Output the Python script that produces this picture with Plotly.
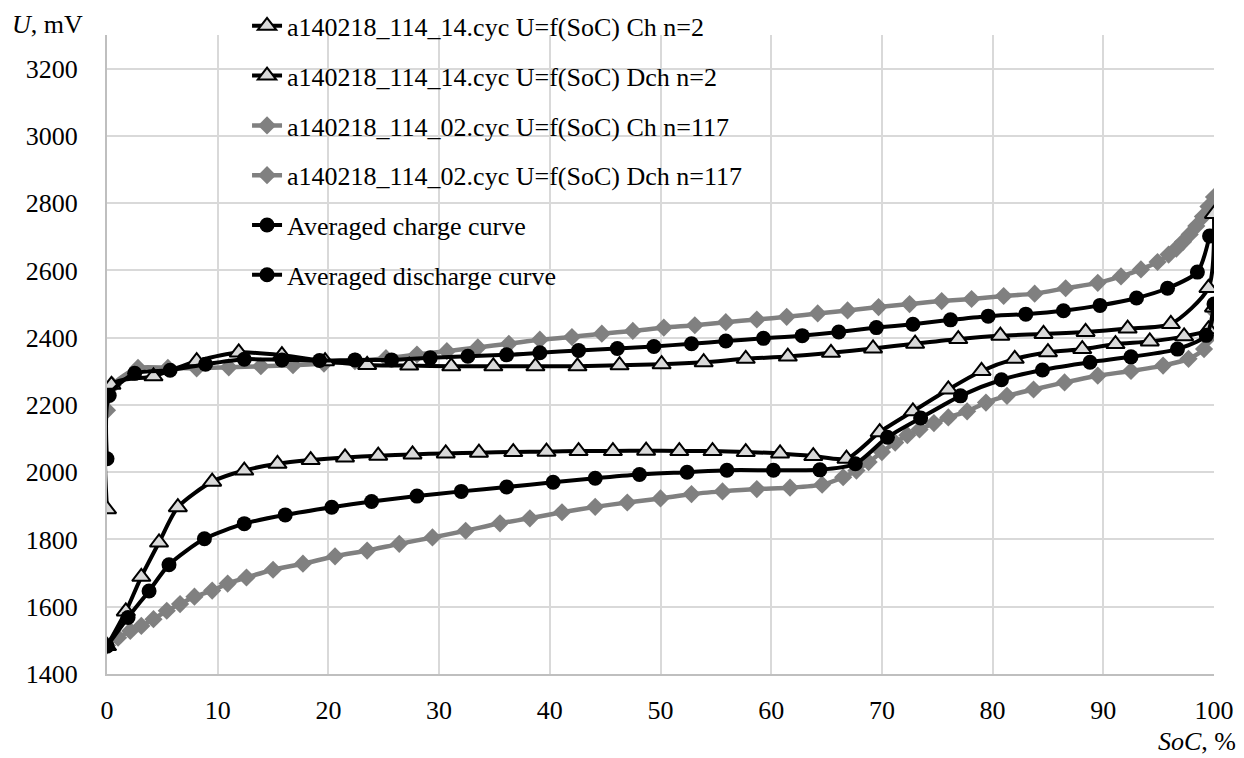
import plotly.graph_objects as go

# ---------------- data ----------------
ch2_x = [0, 0.4, 4.2, 8.1, 11.9, 15.8, 19.7, 23.5, 27.3, 31.1, 34.9, 38.7, 42.5, 46.3,
         50.1, 53.9, 57.7, 61.5, 65.4, 69.2, 73.0, 76.9, 80.7, 84.6, 88.4, 92.2, 96.1, 99.5, 100]
ch2_u = [1890, 2260, 2285, 2330, 2356, 2348, 2330, 2319, 2317, 2315, 2315, 2315, 2315, 2318,
         2321, 2327, 2337, 2344, 2355, 2368, 2382, 2396, 2406, 2411, 2417, 2427, 2441, 2548, 2768]

dch2_x = [0, 1.7, 3.1, 4.7, 6.4, 9.5, 12.4, 15.4, 18.4, 21.5, 24.5, 27.6, 30.6, 33.6, 36.7,
          39.7, 42.6, 45.7, 48.7, 51.7, 54.7, 57.7, 60.8, 63.8, 66.8, 69.8, 72.8, 76.0, 79.0,
          82.0, 85.0, 88.1, 91.1, 94.2, 97.3, 99.5, 100]
dch2_u = [1483, 1586, 1689, 1791, 1896, 1972, 2005, 2025, 2036, 2044, 2049, 2053, 2056, 2058, 2060,
          2061, 2063, 2063, 2064, 2063, 2063, 2060, 2056, 2048, 2040, 2119, 2181, 2246, 2301,
          2337, 2357, 2366, 2381, 2389, 2404, 2425, 2490]

ch117_x = [0, 0.5, 2.8, 5.5, 8.1, 11.0, 13.9, 16.8, 19.6, 22.4, 25.2, 28.0, 30.7, 33.5, 36.3,
           39.1, 42.0, 44.7, 47.5, 50.3, 53.1, 55.9, 58.7, 61.4, 64.2, 66.9, 69.7, 72.5, 75.4,
           78.1, 81.0, 83.8, 86.6, 89.5, 91.6, 93.4, 94.9, 95.9, 96.6, 97.2, 97.8, 98.4, 99.0,
           99.5, 100]
ch117_u = [2184, 2258, 2310, 2310, 2309, 2312, 2315, 2318, 2323, 2330, 2339, 2350, 2360, 2371, 2382,
           2394, 2402, 2412, 2420, 2430, 2437, 2446, 2454, 2462, 2472, 2481, 2491, 2500, 2509,
           2515, 2524, 2531, 2547, 2563, 2582, 2603, 2625, 2647, 2665, 2685, 2707, 2732, 2760,
           2790, 2818]

dch117_x = [0, 1.0, 2.1, 3.1, 4.2, 5.4, 6.6, 7.9, 9.5, 10.9, 12.6, 15.0, 17.7, 20.6, 23.5,
            26.4, 29.4, 32.4, 35.5, 38.2, 41.1, 44.1, 47.0, 50.0, 52.8, 55.6, 58.7, 61.7, 64.6,
            66.5, 67.7, 68.8, 70.0, 71.2, 72.3, 73.4, 74.7, 76.0, 77.7, 79.4, 81.3, 83.7, 86.5,
            89.5, 92.5, 95.4, 97.7, 99.1, 99.5, 100]
dch117_u = [1485, 1508, 1528, 1543, 1563, 1588, 1608, 1630, 1648, 1669, 1687, 1710, 1728, 1750, 1767,
            1787, 1806, 1826, 1848, 1863, 1881, 1897, 1910, 1922, 1935, 1943, 1950, 1954, 1963,
            1985, 2005, 2030, 2060, 2088, 2110, 2127, 2146, 2163, 2181, 2207, 2227, 2246, 2267,
            2287, 2301, 2317, 2337, 2366, 2401, 2480]

avg_ch_x = [0, 0.2, 2.5, 5.7, 8.9, 12.4, 15.8, 19.2, 22.4, 25.7, 29.2, 32.6, 36.1, 39.1, 42.6,
            46.1, 49.4, 52.8, 55.9, 59.3, 62.8, 66.1, 69.5, 72.8, 76.2, 79.6, 83.0, 86.4, 89.7,
            93.0, 95.8, 98.5, 99.6]
avg_ch_u = [2040, 2228, 2294, 2303, 2321, 2336, 2334, 2332, 2334, 2334, 2340, 2345, 2349, 2355, 2362,
            2368, 2374, 2382, 2390, 2398, 2406, 2417, 2430, 2440, 2453, 2464, 2470, 2480, 2496,
            2518, 2547, 2595, 2702]

avg_dch_x = [0, 1.9, 3.8, 5.6, 8.8, 12.4, 16.1, 20.3, 23.9, 28.0, 32.0, 36.1, 40.3, 44.1, 48.1,
             52.4, 56.0, 60.2, 64.4, 67.6, 70.5, 73.5, 77.1, 80.8, 84.5, 88.8, 92.5, 96.7, 99.3, 100]
avg_dch_u = [1483, 1568, 1647, 1725, 1802, 1847, 1873, 1896, 1913, 1929, 1943, 1956, 1970, 1982, 1993,
             2000, 2006, 2006, 2007, 2025, 2104, 2161, 2227, 2275, 2304, 2327, 2343, 2366, 2407, 2500]

names = ["a140218_114_14.cyc U=f(SoC) Ch n=2",
         "a140218_114_14.cyc U=f(SoC) Dch n=2",
         "a140218_114_02.cyc U=f(SoC) Ch n=117",
         "a140218_114_02.cyc U=f(SoC) Dch n=117",
         "Averaged charge curve",
         "Averaged discharge curve"]

y_ticks = [1400, 1600, 1800, 2000, 2200, 2400, 2600, 2800, 3000, 3200]
x_ticks = [0, 10, 20, 30, 40, 50, 60, 70, 80, 90, 100]

# ---------------- figure ----------------
FONT = "Liberation Serif"
GRID = "#d9d9d9"
SM = 0.7

tri_marker = dict(symbol="triangle-up", size=16, color="#d9d9d9",
                  line=dict(color="black", width=2))
dia_marker = dict(symbol="diamond", size=14, color="#808080", line=dict(width=0))
cir_marker = dict(symbol="circle", size=15, color="black", line=dict(width=0))

fig = go.Figure()


def add(x, y, name, marker, color, width, rank):
    fig.add_trace(go.Scatter(
        x=x, y=y, name=name, mode="lines+markers",
        line=dict(color=color, width=width, shape="spline", smoothing=SM),
        marker=marker, legendrank=rank, legendgroup=name))


add(ch117_x, ch117_u, names[2], dia_marker, "#808080", 4.5, 3)
add(dch117_x, dch117_u, names[3], dia_marker, "#808080", 4.5, 4)
add(ch2_x, ch2_u, names[0], tri_marker, "black", 4, 1)
add(dch2_x, dch2_u, names[1], tri_marker, "black", 4, 2)
add(avg_ch_x, avg_ch_u, names[4], cir_marker, "black", 4, 5)
add(avg_dch_x, avg_dch_u, names[5], cir_marker, "black", 4, 6)

fig.update_layout(
    width=1244, height=758,
    margin=dict(l=107, r=30, t=35, b=84, autoexpand=False),
    paper_bgcolor="white", plot_bgcolor="white",
    font=dict(family=FONT, size=26, color="black"),
    showlegend=True,
    legend=dict(x=0.1265, y=1.051, xanchor="left", yanchor="top",
                bgcolor="rgba(0,0,0,0)", font=dict(family=FONT, size=26, color="black"),
                tracegroupgap=13, itemsizing="trace", traceorder="grouped"),
    xaxis=dict(range=[0, 100], tickvals=x_ticks, ticktext=[str(v) for v in x_ticks],
               showgrid=True, gridcolor=GRID, gridwidth=2,
               showline=True, linecolor="#bfbfbf", linewidth=2,
               zeroline=False, ticks="", ticklabelstandoff=12,
               tickfont=dict(family=FONT, size=26, color="black")),
    yaxis=dict(range=[1400, 3300], tickvals=y_ticks, ticktext=[str(v) for v in y_ticks],
               showgrid=True, gridcolor=GRID, gridwidth=2,
               showline=True, linecolor="#bfbfbf", linewidth=2,
               zeroline=False, ticks="", ticklabelstandoff=22,
               tickfont=dict(family=FONT, size=26, color="black")),
    annotations=[
        dict(text="<i>U</i>, mV", xref="paper", yref="paper", x=-0.088, y=1.017,
             xanchor="left", yanchor="middle", showarrow=False,
             font=dict(family=FONT, size=26, color="black")),
        dict(text="<i>SoC</i>, %", xref="paper", yref="paper", x=1.022, y=-0.106,
             xanchor="right", yanchor="middle", showarrow=False,
             font=dict(family=FONT, size=26, color="black")),
    ],
)

fig.write_html("out.html", config={"displayModeBar": False},
               post_script="document.body.style.margin='0';document.body.style.padding='0';"
                           "document.body.style.overflow='hidden';")
